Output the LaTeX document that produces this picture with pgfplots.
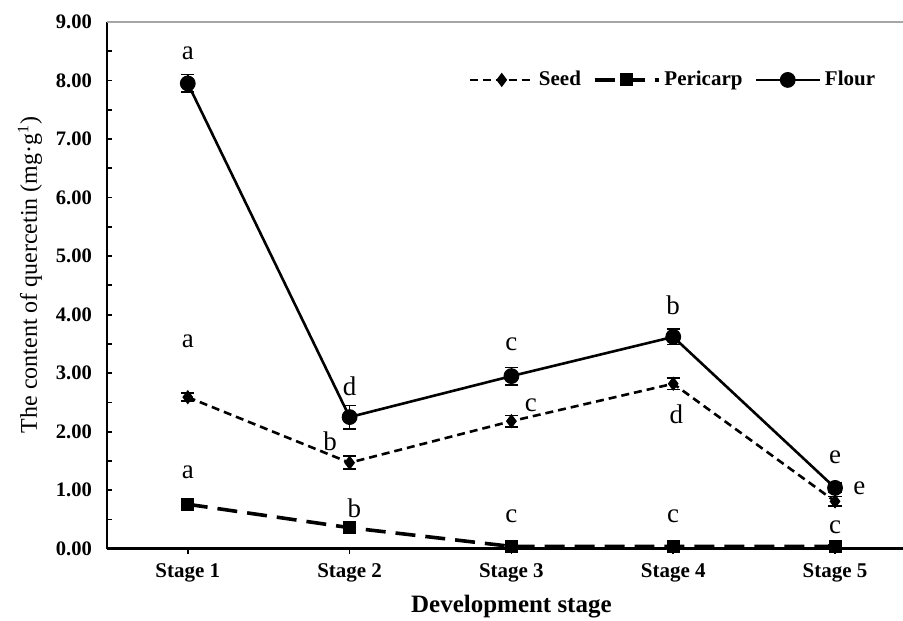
\documentclass[border=0pt]{standalone}
\usepackage{pgfplots}
\pgfplotsset{compat=1.18}
\usepackage{fontspec}
\setmainfont{Liberation Serif}
\tikzset{lbl/.style={font=\fontsize{13.5}{15}\selectfont}}

\begin{document}
\begin{tikzpicture}
\begin{axis}[
  name=ax,
  x=81pt, y=29.3pt,
  xmin=0.5, xmax=5.42, ymin=0, ymax=9,
  clip=false,
  axis x line*=bottom, axis y line*=left,
  axis line style={line width=1.3pt, -},
  tick align=inside,
  xtick={1,2,3,4,5},
  xticklabels={Stage 1,Stage 2,Stage 3,Stage 4,Stage 5},
  ytick={0,1,2,3,4,5,6,7,8,9},
  minor y tick num=1,
  major tick length=2.7pt, minor tick length=2.7pt,
  tick style={black, line width=0.9pt},
  x tick style={yshift=-2.7pt},
  /pgf/number format/assume math mode=true,
  /pgf/number format/fixed,
  /pgf/number format/fixed zerofill,
  /pgf/number format/precision=2,
  yticklabel style={font=\bfseries\fontsize{10.3}{12}\selectfont, anchor=east, xshift=-4pt},
  xticklabel style={font=\bfseries\fontsize{10.5}{12}\selectfont, anchor=base, yshift=-14.5pt},
  xlabel={Development stage},
  xlabel style={font=\bfseries\fontsize{12.5}{14}\selectfont, at={([yshift=-32pt]axis cs:3,0)}, anchor=base},
  ylabel={The content of quercetin (mg·g\textsuperscript{1})},
  ylabel style={font=\fontsize{12}{14}\selectfont, at={([xshift=-35pt]axis description cs:0,0.52)}, anchor=base},
  legend style={draw=none, fill=none, font=\bfseries\fontsize{10.5}{12}\selectfont,
    at={(0.978,0.89)}, anchor=east, legend columns=3,
    /tikz/every even column/.append style={column sep=4pt}},
  legend image code/.code={\draw[mark repeat=2, mark phase=2, #1] plot coordinates {(0pt,0pt) (16pt,0pt) (32pt,0pt)};},
]

% Seed
\addplot[black, line width=1.3pt, dash pattern=on 4pt off 2.5pt,
  mark=diamond*, mark size=3.2pt, mark options={solid, line width=0.5pt},
  error bars/.cd, y dir=both, y explicit,
  error bar style={solid, line width=0.8pt},
  error mark options={solid, rotate=90, mark size=3.3pt, line width=0.8pt}]
coordinates {
  (1,2.59) +- (0,0.07)
  (2,1.47) +- (0,0.11)
  (3,2.18) +- (0,0.10)
  (4,2.82) +- (0,0.10)
  (5,0.81) +- (0,0.08)
};
\addlegendentry{Seed}

% Pericarp
\addplot[black, line width=1.8pt, dash pattern=on 10pt off 5pt,
  mark=square*, mark size=3pt, mark options={solid, line width=0.5pt},
  error bars/.cd, y dir=both, y explicit,
  error bar style={solid, line width=0.8pt},
  error mark options={solid, rotate=90, mark size=3.3pt, line width=0.8pt}]
coordinates {
  (1,0.76) +- (0,0.04)
  (2,0.36) +- (0,0.03)
  (3,0.04) +- (0,0.02)
  (4,0.04) +- (0,0.02)
  (5,0.04) +- (0,0.02)
};
\addlegendentry{Pericarp}

% Flour
\addplot[black, line width=1.3pt, solid,
  mark=*, mark size=3.7pt, mark options={solid, line width=0.5pt},
  error bars/.cd, y dir=both, y explicit,
  error bar style={solid, line width=0.8pt},
  error mark options={solid, rotate=90, mark size=3.3pt, line width=0.8pt}]
coordinates {
  (1,7.95) +- (0,0.15)
  (2,2.25) +- (0,0.20)
  (3,2.95) +- (0,0.15)
  (4,3.62) +- (0,0.13)
  (5,1.04) +- (0,0.08)
};
\addlegendentry{Flour}

% significance letters
\node[lbl] at (axis cs:1,8.46) {a};
\node[lbl] at (axis cs:2,2.78) {d};
\node[lbl] at (axis cs:3,3.50) {c};
\node[lbl] at (axis cs:4,4.16) {b};
\node[lbl] at (axis cs:5,1.57) {e};

\node[lbl] at (axis cs:1,3.55) {a};
\node[lbl] at (axis cs:1.88,1.83) {b};
\node[lbl] at (axis cs:3.12,2.46) {c};
\node[lbl] at (axis cs:4.02,2.29) {d};
\node[lbl] at (axis cs:5.15,1.04) {e};

\node[lbl] at (axis cs:1,1.30) {a};
\node[lbl] at (axis cs:2.03,0.70) {b};
\node[lbl] at (axis cs:3,0.56) {c};
\node[lbl] at (axis cs:4,0.56) {c};
\node[lbl] at (axis cs:5,0.37) {c};

% thin frame line along the top
\draw[gray!70, line width=0.6pt] (rel axis cs:0,1) -- (rel axis cs:1,1);
\end{axis}
\pgfresetboundingbox
\path[use as bounding box] ([xshift=-53.5pt,yshift=-36pt]ax.south west) rectangle ([yshift=11pt]ax.north east);
\end{tikzpicture}
\end{document}
